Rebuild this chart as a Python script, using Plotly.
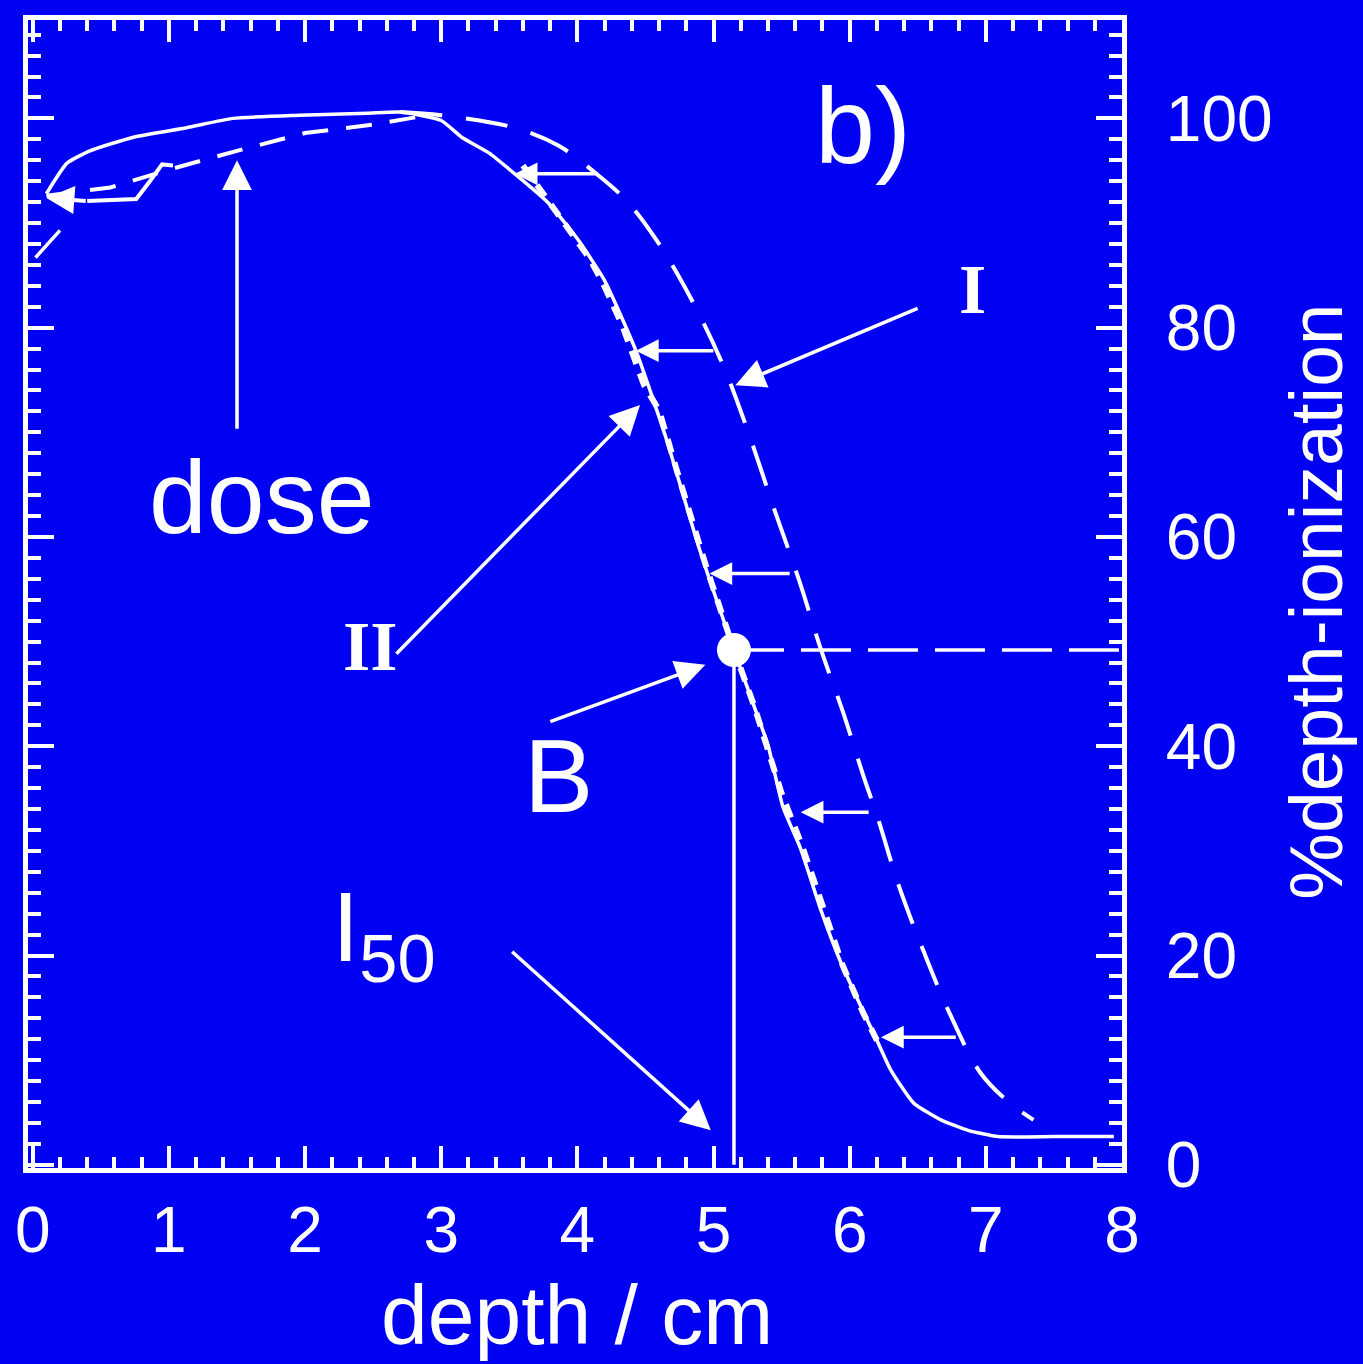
import plotly.graph_objects as go

# ---------------- data ----------------
solid_x = [0.10, 0.25, 0.42, 0.74, 1.13, 1.47, 1.96, 2.46, 2.70, 3.00, 3.15, 3.35, 3.54, 3.78,
           4.00, 4.20, 4.43, 4.65, 4.90, 5.15, 5.29, 5.40, 5.51, 5.64, 5.79, 5.93, 6.08,
           6.20, 6.30, 6.47, 6.67, 6.87, 7.09, 7.50, 7.94]
solid_y = [92.8, 95.7, 96.9, 98.2, 99.1, 100.0, 100.3, 100.5, 100.6, 99.8, 98.2, 96.7, 94.7, 92.0,
           88.5, 84.5, 77.8, 69.5, 58.7, 49.2, 44.1, 40.1, 34.2, 30.2, 24.3, 19.5, 15.2,
           11.9, 9.1, 5.9, 4.3, 3.3, 2.7, 2.7, 2.7]

stub_x = [0.02, 0.20]
stub_y = [86.7, 89.3]

curveI_x = [2.70, 3.00, 3.54, 3.86, 4.14, 4.37, 4.60, 4.85, 5.07, 5.25, 5.45, 5.63, 5.79, 5.95,
            6.10, 6.21, 6.36, 6.54, 6.73, 6.96, 7.15, 7.35]
curveI_y = [100.6, 100.3, 99.1, 97.4, 94.7, 92.0, 88.0, 82.4, 76.4, 70.2, 62.5, 55.8, 49.2, 43.3,
            37.2, 33.0, 26.7, 20.5, 14.6, 8.8, 6.2, 4.3]

curveII_x = [3.60, 3.72, 3.82, 3.91, 4.01, 4.09, 4.19, 4.25, 4.33, 4.49, 4.60, 4.75, 4.95, 5.15,
             5.30, 5.50, 5.65, 5.80, 5.95, 6.10, 6.20]
curveII_y = [95.5, 93.3, 91.7, 90.0, 88.2, 86.6, 84.2, 82.4, 80.2, 74.5, 72.1, 65.5, 57.0, 49.2,
             43.8, 35.5, 30.5, 24.8, 19.0, 14.5, 11.9]

dose_x = [0.10, 0.57, 1.00, 1.50, 2.00, 2.50, 2.90]
dose_y = [92.6, 93.4, 95.1, 96.9, 98.6, 99.4, 100.3]

loop_x = [0.40, 0.76, 0.86, 0.95, 1.03]
loop_y = [92.1, 92.3, 94.0, 95.6, 95.5]
loop_head = (0.10, 92.4)

# horizontal shift connectors: level, x on solid curve, x on curve I
shift_y = [94.7, 77.8, 56.5, 33.7, 12.2]
shift_x0 = [3.54, 4.43, 4.97, 5.64, 6.23]
shift_x1 = [4.14, 5.01, 5.57, 6.15, 6.79]

# point B / I50
b_x = 5.15
b_y = 49.2
x_max = 8.0

# x and y tick labels
x_ticks = [0, 1, 2, 3, 4, 5, 6, 7, 8]
y_ticks = [0, 20, 40, 60, 80, 100]

# annotation arrows: (head x, head y, tail x, tail y)
arrows = [
    (1.50, 96.0, 1.50, 70.2),    # dose
    (5.16, 74.5, 6.51, 81.9),    # I
    (4.46, 72.6, 2.66, 48.7),    # II
    (4.94, 47.8, 3.79, 42.3),    # B
    (4.98, 3.3, 3.51, 20.5),     # I50
]

# ---------------- figure ----------------
BLUE = "#0000F2"
W = "white"
FONT = "Liberation Sans"

fig = go.Figure()

fig.add_trace(go.Scatter(x=solid_x, y=solid_y, mode="lines",
                         line=dict(color=W, width=3.5, shape="spline", smoothing=0.5),
                         hoverinfo="skip"))
fig.add_trace(go.Scatter(x=stub_x, y=stub_y, mode="lines",
                         line=dict(color=W, width=3.5), hoverinfo="skip"))
fig.add_trace(go.Scatter(x=curveI_x, y=curveI_y, mode="lines",
                         line=dict(color=W, width=4, dash="42px,24px", shape="spline"),
                         hoverinfo="skip"))
fig.add_trace(go.Scatter(x=curveII_x, y=curveII_y, mode="lines",
                         line=dict(color=W, width=6, dash="14px,10px"), hoverinfo="skip"))
fig.add_trace(go.Scatter(x=dose_x, y=dose_y, mode="lines",
                         line=dict(color=W, width=4, dash="26px,18px"), hoverinfo="skip"))
fig.add_trace(go.Scatter(x=loop_x, y=loop_y, mode="lines",
                         line=dict(color=W, width=4), hoverinfo="skip"))

# horizontal dashed line from B to right frame, vertical line from B to axis
fig.add_trace(go.Scatter(x=[b_x, x_max], y=[b_y, b_y], mode="lines",
                         line=dict(color=W, width=3.5, dash="50px,17px"), hoverinfo="skip"))
fig.add_trace(go.Scatter(x=[b_x, b_x], y=[0, b_y], mode="lines",
                         line=dict(color=W, width=3.5), hoverinfo="skip"))
fig.add_trace(go.Scatter(x=[b_x], y=[b_y], mode="markers",
                         marker=dict(color=W, size=34), hoverinfo="skip"))

annotations = []
# loop arrowhead toward axis
annotations.append(dict(x=loop_head[0], y=loop_head[1], ax=loop_x[0], ay=loop_y[0],
                        xref="x", yref="y", axref="x", ayref="y", text="", showarrow=True,
                        arrowhead=2, arrowsize=1.4, arrowwidth=4, arrowcolor=W, standoff=0))
# shift connectors
for yy, x0, x1 in zip(shift_y, shift_x0, shift_x1):
    annotations.append(dict(x=x0, y=yy, ax=x1, ay=yy, xref="x", yref="y", axref="x", ayref="y",
                            text="", showarrow=True, arrowhead=2, arrowsize=1.3, arrowwidth=3.5,
                            arrowcolor=W, standoff=0))
# label arrows
for hx, hy, tx, ty in arrows:
    annotations.append(dict(x=hx, y=hy, ax=tx, ay=ty, xref="x", yref="y", axref="x", ayref="y",
                            text="", showarrow=True, arrowhead=2, arrowsize=1.7, arrowwidth=3.5,
                            arrowcolor=W, standoff=0))

# text labels
def lab(text, x, y, size, family=FONT, **kw):
    d = dict(text=text, x=x, y=y, xref="x", yref="y", showarrow=False,
             font=dict(family=family, size=size, color=W), xanchor="center", yanchor="middle")
    d.update(kw)
    annotations.append(d)

lab("b)", 6.10, 99.3, 108)
lab("dose", 1.68, 63.8, 104)
lab("<b>I</b>", 6.90, 83.6, 70, family="Liberation Serif")
lab("<b>II</b>", 2.48, 49.5, 70, family="Liberation Serif")
lab("B", 3.86, 37.2, 104)
lab("I<sub>50</sub>", 2.58, 22.0, 98)

# axis titles as annotations
annotations.append(dict(text="depth / cm", x=4.0, y=-0.128, xref="x", yref="paper",
                        showarrow=False, font=dict(family=FONT, size=84, color=W),
                        xanchor="center", yanchor="middle"))
annotations.append(dict(text="%depth-ionization", x=1.177, y=0.493, xref="paper", yref="paper",
                        showarrow=False, textangle=-90, font=dict(family=FONT, size=75, color=W),
                        xanchor="center", yanchor="middle"))

fig.update_layout(
    width=1363, height=1364,
    margin=dict(l=28, r=241, t=20, b=196),
    paper_bgcolor=BLUE, plot_bgcolor=BLUE,
    showlegend=False,
    annotations=annotations,
    xaxis=dict(range=[-0.035, 8.0], tickvals=x_ticks, ticktext=[str(v) for v in x_ticks],
               ticks="inside", ticklen=22, tickwidth=4, tickcolor=W,
               showline=True, linewidth=5, linecolor=W, mirror="ticks",
               showgrid=False, zeroline=False,
               tickfont=dict(family=FONT, size=64, color=W), ticklabelstandoff=2,
               minor=dict(ticks="inside", ticklen=11, tickwidth=4, tickcolor=W, dtick=0.2,
                          showgrid=False)),
    yaxis=dict(range=[-0.3, 109.4], tickvals=y_ticks, ticktext=[str(v) for v in y_ticks],
               side="right",
               ticks="inside", ticklen=26, tickwidth=4, tickcolor=W,
               showline=True, linewidth=5, linecolor=W, mirror="ticks",
               showgrid=False, zeroline=False,
               tickfont=dict(family=FONT, size=64, color=W), ticklabelstandoff=26,
               minor=dict(ticks="inside", ticklen=13, tickwidth=4, tickcolor=W, dtick=2,
                          showgrid=False)),
)

fig.write_html("out.html",
               config={"displayModeBar": False},
               post_script="document.body.style.margin='0';"
                           "document.body.style.overflow='hidden';"
                           "document.body.style.background='#0000F2';")
